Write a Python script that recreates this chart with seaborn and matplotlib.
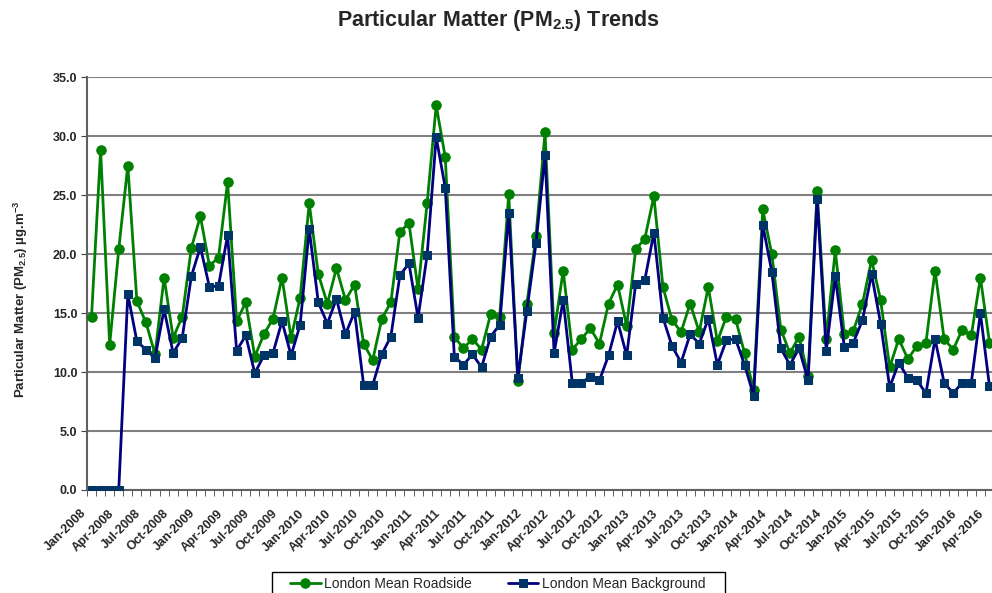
import matplotlib
matplotlib.use("Agg")
import matplotlib.pyplot as plt
import matplotlib.transforms as mtransforms
from matplotlib.patches import Rectangle
import seaborn as sns
import pandas as pd
import numpy as np

months = ["Jan", "Feb", "Mar", "Apr", "May", "Jun", "Jul", "Aug", "Sep", "Oct", "Nov", "Dec"]
month_labels = [f"{months[i % 12]}-{2008 + i // 12}" for i in range(100)]

roadside = [
    14.7, 28.8, 12.3, 20.4, 27.5, 16.0, 14.2, 11.5, 18.0, 12.9, 14.7, 20.5,
    23.2, 19.0, 19.7, 26.1, 14.3, 15.9, 11.3, 13.2, 14.5, 18.0, 12.9, 16.3,
    24.3, 18.3, 15.8, 18.8, 16.1, 17.4, 12.4, 11.0, 14.5, 15.9, 21.9, 22.6,
    17.0, 24.3, 32.6, 28.2, 13.0, 12.0, 12.8, 11.9, 14.9, 14.7, 25.1, 9.2,
    15.8, 21.5, 30.3, 13.3, 18.6, 11.9, 12.8, 13.7, 12.4, 15.8, 17.4, 13.9,
    20.4, 21.3, 24.9, 17.2, 14.4, 13.4, 15.8, 13.4, 17.2, 12.6, 14.7, 14.5,
    11.6, 8.5, 23.8, 20.0, 13.6, 11.6, 13.0, 9.7, 25.3, 12.8, 20.3, 13.2,
    13.5, 15.8, 19.5, 16.1, 10.4, 12.8, 11.1, 12.2, 12.5, 18.6, 12.8, 11.9,
    13.6, 13.1, 18.0, 12.5,
]
background = [
    0.0, 0.0, 0.0, 0.0, 16.6, 12.6, 11.9, 11.2, 15.3, 11.6, 12.9, 18.1,
    20.6, 17.2, 17.3, 21.6, 11.8, 13.1, 9.9, 11.4, 11.6, 14.3, 11.4, 14.0,
    22.1, 15.9, 14.1, 16.2, 13.2, 15.1, 8.9, 8.9, 11.5, 13.0, 18.2, 19.2,
    14.6, 19.9, 29.9, 25.6, 11.3, 10.6, 11.5, 10.4, 13.0, 14.0, 23.5, 9.5,
    15.2, 20.9, 28.4, 11.6, 16.1, 9.1, 9.1, 9.6, 9.3, 11.4, 14.3, 11.4,
    17.5, 17.8, 21.8, 14.6, 12.2, 10.8, 13.2, 12.4, 14.5, 10.6, 12.7, 12.8,
    10.6, 8.0, 22.5, 18.5, 12.0, 10.6, 12.0, 9.3, 24.7, 11.8, 18.1, 12.1,
    12.5, 14.4, 18.3, 14.1, 8.7, 10.8, 9.5, 9.3, 8.2, 12.8, 9.1, 8.2,
    9.1, 9.1, 15.0, 8.8,
]
series_names = ["London Mean Roadside", "London Mean Background"]
y_ticks = [0, 5, 10, 15, 20, 25, 30, 35]

sns.set_style("white")
plt.rcParams["font.family"] = ["Liberation Sans", "DejaVu Sans"]
plt.rcParams["mathtext.fontset"] = "custom"
plt.rcParams["mathtext.rm"] = "Liberation Sans"
plt.rcParams["mathtext.bf"] = "Liberation Sans:bold"
plt.rcParams["mathtext.it"] = "Liberation Sans:italic"

W, H = 992, 593
fig = plt.figure(figsize=(9.92, 5.93), dpi=100)
ax = fig.add_axes([87 / W, 1 - 490 / H, (994 - 87) / W, (490 - 77) / H])

idx = np.arange(len(roadside))
df = pd.DataFrame({"idx": idx, "road": roadside, "back": background})

sns.lineplot(data=df, x="idx", y="road", ax=ax, color="#008000", lw=2.0,
             marker="o", markersize=6.8, markeredgecolor="#008000",
             markerfacecolor="#008000", label=series_names[0], zorder=3)
sns.lineplot(data=df, x="idx", y="back", ax=ax, color="#000080", lw=2.0,
             marker="s", markersize=5.6, markeredgecolor="#003366",
             markerfacecolor="#003366", label=series_names[1], zorder=4)

ax.set_xlim(-0.5, 99.5)
ax.set_ylim(0, 35)
ax.set_yticks(y_ticks)
ax.set_yticklabels([f"{v:.1f}" for v in y_ticks], fontsize=9, fontweight="bold")
ax.yaxis.grid(True, color="#808080", lw=1.5)
ax.set_axisbelow(True)

ax.set_xticks(idx[::3])
ax.set_xticklabels(month_labels[::3], rotation=45, ha="right",
                   rotation_mode="anchor", fontsize=9, fontweight="bold")
ax.set_xticks(np.arange(-0.5, 100, 1), minor=True)
ax.tick_params(axis="x", which="major", length=0, pad=6)
ax.tick_params(axis="x", which="minor", direction="out", length=4, color="#404040",
               bottom=True)
ax.tick_params(axis="y", direction="out", length=4, color="#404040", left=True, pad=3)

offset = mtransforms.ScaledTranslation(-11 / 100, -9 / 100, fig.dpi_scale_trans)
for lab in ax.get_xticklabels():
    lab.set_transform(lab.get_transform() + offset)

for s in ["top", "right"]:
    ax.spines[s].set_visible(False)
for s in ["left", "bottom"]:
    ax.spines[s].set_color("#606060")
    ax.spines[s].set_linewidth(1.5)

ax.set_xlabel("")
ax.set_ylabel("Particular Matter (PM$_{\\mathbf{2.5}}$) µg.m$^{\\mathbf{-3}}$",
              fontsize=9.5, fontweight="bold")
ax.yaxis.set_label_coords(30 / W, 0.5 - 3 / H, transform=fig.transFigure)

fig.text(0.502, 0.966, "Particular Matter (PM$_{\\mathbf{2.5}}$) Trends",
         ha="center", va="center", fontsize=15.5, fontweight="bold")

ax.get_legend().remove()
h, l = ax.get_legend_handles_labels()
fig.patches.append(Rectangle((272 / W, -0.01), (725 - 272) / W, 0.01 + (593 - 572) / H,
                             transform=fig.transFigure, fill=False,
                             edgecolor="#000000", lw=1.0))
leg = fig.legend(h, l, loc="center left", bbox_to_anchor=(290 / W, 1 - 584 / H),
                 ncol=2, frameon=False, fontsize=10, handlelength=2.2,
                 columnspacing=2.6, handletextpad=0.25, borderpad=0, borderaxespad=0)

fig.savefig("out.png", dpi=100)
